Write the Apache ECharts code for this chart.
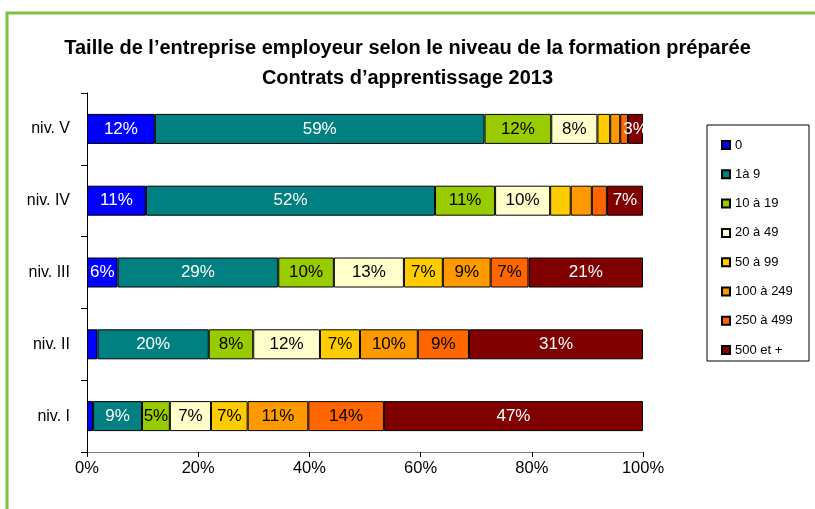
<!DOCTYPE html>
<html>
<head>
<meta charset="utf-8">
<script src="https://cdn.jsdelivr.net/npm/echarts@6/dist/echarts.min.js"></script>
<style>
html,body{margin:0;padding:0;background:#fff;}
#chart{width:815px;height:509px;}
</style>
</head>
<body>
<div id="chart"></div>
<script>
// niveaux (du haut vers le bas)
var niveaux=['niv. V','niv. IV','niv. III','niv. II','niv. I'];
// tranches de taille
var tailles=['0','1à 9','10 à 19','20 à 49','50 à 99','100 à 249','250 à 499','500 et +'];
var couleurs=['#0000FF','#008080','#99CC00','#FFFFCC','#FFCC00','#FF9900','#FF6600','#800000'];
var texteBlanc=[true,true,false,false,false,false,false,true];

// parts en % (niv. V, IV, III, II, I)
var t0=[12.2,10.6,5.5,1.9,1.1];
var t1=[59.3,52.0,28.9,20.0,8.8];
var t2=[12.0,10.8,10.0,8.0,5.0];
var t3=[8.3,9.9,12.6,12.0,7.4];
var t4=[2.3,3.7,7.0,7.2,6.6];
var t5=[1.8,3.8,8.6,10.4,10.9];
var t6=[1.4,2.7,6.8,9.2,13.6];
var t7=[2.7,6.5,20.6,31.3,46.6];
var valeurs=[t0,t1,t2,t3,t4,t5,t6,t7];

// étiquettes masquées [tranche, niveau]
var sansEtiquette=[[4,0],[5,0],[6,0],[4,1],[5,1],[6,1],[0,3],[0,4]];

var xTicks=[0,20,40,60,80,100];

function cache(s,n){
	for(var i=0;i<sansEtiquette.length;i++){
		if(sansEtiquette[i][0]==s && sansEtiquette[i][1]==n) return true;
	}
	return false;
}

var series=[];
for(var s=0;s<tailles.length;s++){
	var data=[];
	for(var n=0;n<niveaux.length;n++){
		var item={value:valeurs[s][n]};
		if(cache(s,n)) item.label={show:false};
		data.push(item);
	}
	series.push({
		name:tailles[s],
		type:'bar',
		stack:'total',
		barWidth:30,
		data:data,
		itemStyle:{color:couleurs[s],borderColor:'#000',borderWidth:1},
		label:{
			show:true,
			position:'inside',
			fontFamily:'Liberation Sans, Arial',
			fontSize:17,
			color:texteBlanc[s]?'#fff':'#000',
			formatter:function(p){return Math.round(p.value)+'%';}
		}
	});
}

var option={
	animation:false,
	backgroundColor:'#fff',
	title:{
		text:'Taille de l\u2019entreprise employeur selon le niveau de la formation préparée\nContrats d\u2019apprentissage 2013',
		left:'center',
		top:28,
		textStyle:{
			fontFamily:'Liberation Sans Narrow, Arial Narrow, Liberation Sans',
			fontWeight:'bold',
			fontSize:20,
			lineHeight:30,
			color:'#000'
		}
	},
	graphic:[
		{type:'rect',shape:{x:7,y:13,width:900,height:600},style:{fill:'none',stroke:'#7DC242',lineWidth:3}},
		{type:'rect',shape:{x:707,y:125,width:102,height:236},style:{fill:'#fff',stroke:'#000',lineWidth:1},z:-1}
	],
	legend:{
		orient:'vertical',
		left:716,
		top:133,
		itemWidth:8,
		itemHeight:8,
		itemGap:15.3,
		icon:'rect',
		data:tailles,
		textStyle:{fontFamily:'Liberation Sans, Arial',fontSize:13,color:'#000',lineHeight:14}
	},
	grid:{left:87,right:172,top:93,bottom:57,containLabel:false},
	xAxis:{
		type:'value',
		min:0,
		max:100,
		interval:20,
		axisLine:{show:true,lineStyle:{color:'#808080'}},
		axisTick:{show:true,length:5,lineStyle:{color:'#000'}},
		splitLine:{show:false},
		axisLabel:{
			formatter:'{value}%',
			margin:8,
			fontFamily:'Liberation Sans, Arial',
			fontSize:16.5,
			color:'#000',
			customValues:xTicks
		}
	},
	yAxis:{
		type:'category',
		inverse:true,
		data:niveaux,
		axisLine:{show:true,lineStyle:{color:'#000'}},
		axisTick:{show:true,length:6,lineStyle:{color:'#000'}},
		axisLabel:{margin:17,fontFamily:'Liberation Sans, Arial',fontSize:16,color:'#000'}
	},
	series:series
};

var myChart=echarts.init(document.getElementById('chart'));
myChart.setOption(option);
</script>
</body>
</html>
